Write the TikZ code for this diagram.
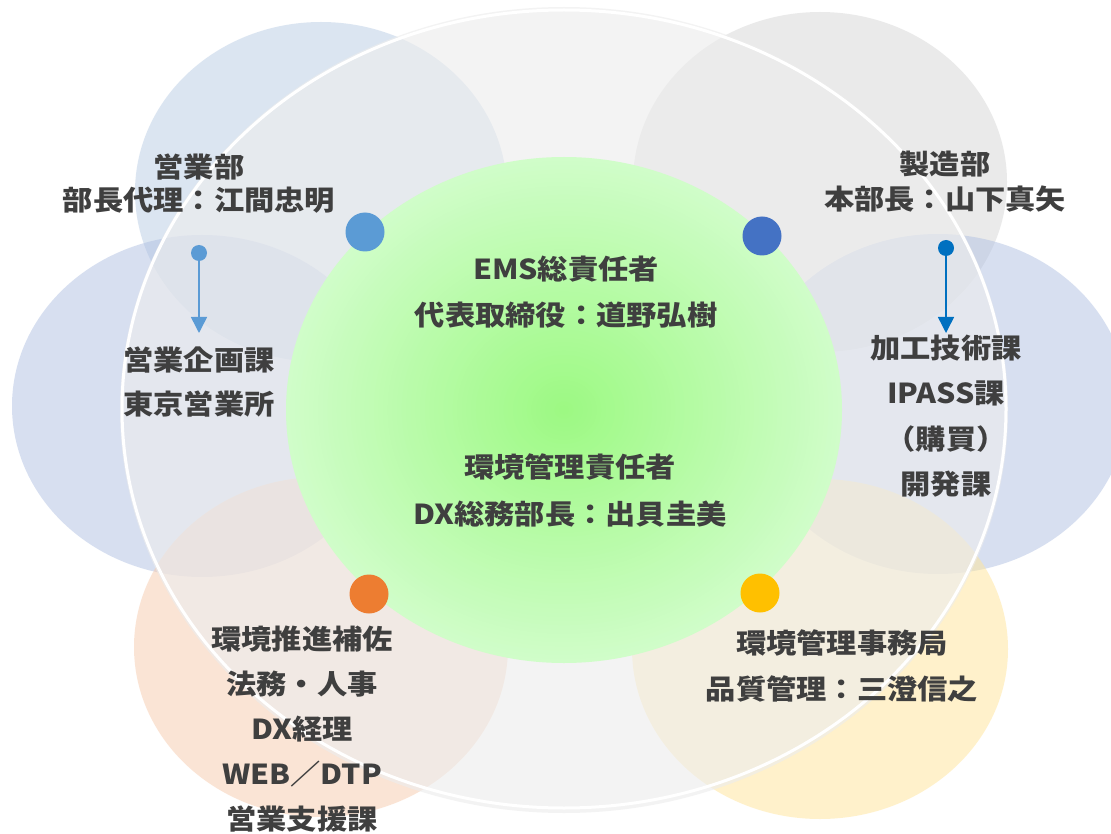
\documentclass[tikz,border=0pt]{standalone}
\usepackage{fontspec}
\newfontfamily\jp{Noto Sans CJK JP}
\usetikzlibrary{arrows.meta}
\definecolor{txtc}{HTML}{3F3F3F}
\definecolor{satTL}{RGB}{185,205,229}
\definecolor{satTR}{RGB}{215,215,215}
\definecolor{satM}{RGB}{177,193,227}
\definecolor{satBL}{RGB}{247,203,173}
\definecolor{satBR}{RGB}{255,229,153}
\definecolor{bigc}{RGB}{237,237,237}
\definecolor{gin}{RGB}{156,249,130}
\definecolor{gout}{RGB}{208,253,201}
\definecolor{dotA}{HTML}{5B9BD5}
\definecolor{dotB}{HTML}{4472C4}
\definecolor{dotC}{HTML}{ED7D31}
\definecolor{dotD}{HTML}{FFC000}
\definecolor{arrR}{HTML}{0070C0}
\tikzset{
  lbl/.style={text=txtc, align=center, inner sep=0pt, xscale=1.1, transform shape,
    font={\jp\bfseries\fontsize{27.5pt}{#1}\selectfont}},
  sat/.style={fill=#1, opacity=0.5},
  bigdot/.style={circle, fill=#1, minimum size=39pt, inner sep=0pt},
  smalldot/.style={circle, fill=#1, minimum size=16pt, inner sep=0pt},
  arr/.style={draw=#1, line width=1.5pt, -{Triangle[width=16pt,length=16pt]}}
}
\begin{document}
\begin{tikzpicture}[x=1pt,y=-1pt]
\useasboundingbox (0,0) rectangle (1111,834);
\fill[white] (0,0) rectangle (1111,834);
% satellite circles
\fill[sat=satTL] (321,192) ellipse [x radius=186pt, y radius=170pt];
\fill[sat=satTR] (820,182) ellipse [x radius=187pt, y radius=170pt];
\fill[sat=satM] (202,406) ellipse [x radius=190pt, y radius=171pt];
\fill[sat=satM] (938,404) ellipse [x radius=190pt, y radius=170pt];
\fill[sat=satBL] (321,647) ellipse [x radius=187pt, y radius=170pt];
\fill[sat=satBR] (820,649) ellipse [x radius=188pt, y radius=170pt];
% big light ellipse
\fill[bigc, opacity=0.63] (564,410) ellipse [x radius=444pt, y radius=403pt];
\draw[white, line width=3pt] (564,409) ellipse [x radius=442pt, y radius=399pt];
% central green ellipse (radial gradient in steps)
\foreach \i in {60,59,...,1}{
  \pgfmathsetmacro\p{100*\i/60}
  \pgfmathsetmacro\rx{4.63333*\i}
  \pgfmathsetmacro\ry{4.21667*\i}
  \fill[gout!\p!gin] (564,410) ellipse [x radius=\rx pt, y radius=\ry pt];
}
% dots
\node[bigdot=dotA] (dTL) at (365,232) {};
\node[bigdot=dotB] (dTR) at (762,236) {};
\node[bigdot=dotC] (dBL) at (369,594) {};
\node[bigdot=dotD] (dBR) at (760,593) {};
\node[smalldot=dotA] (sL) at (199,253) {};
\node[smalldot=arrR] (sR) at (946,248) {};
\coordinate (tL) at (199,333);
\coordinate (tR) at (946,333);
\draw[arr=dotA] (sL) -- (tL);
\draw[arr=arrR] (sR) -- (tR);
% labels
\node[lbl=33pt] (nA) at (199,184) {営業部\\部長代理：江間忠明};
\node[lbl=44.5pt] (nB) at (199,382) {営業企画課\\東京営業所};
\node[lbl=46pt] (nC) at (566,292) {EMS総責任者\\代表取締役：道野弘樹};
\node[lbl=35pt] (nD) at (945,182) {製造部\\本部長：山下真矢};
\node[lbl=45.3pt] (nE) at (946,416) {加工技術課\\IPASS課\\（購買）\\開発課};
\node[lbl=47pt] (nF) at (570,490) {環境管理責任者\\DX総務部長：出貝圭美};
\node[lbl=45pt] (nG) at (302,729) {環境推進補佐\\法務・人事\\DX経理\\WEB／DTP\\営業支援課};
\node[lbl=46pt] (nH) at (842,666) {環境管理事務局\\品質管理：三澄信之};
\end{tikzpicture}
\end{document}
